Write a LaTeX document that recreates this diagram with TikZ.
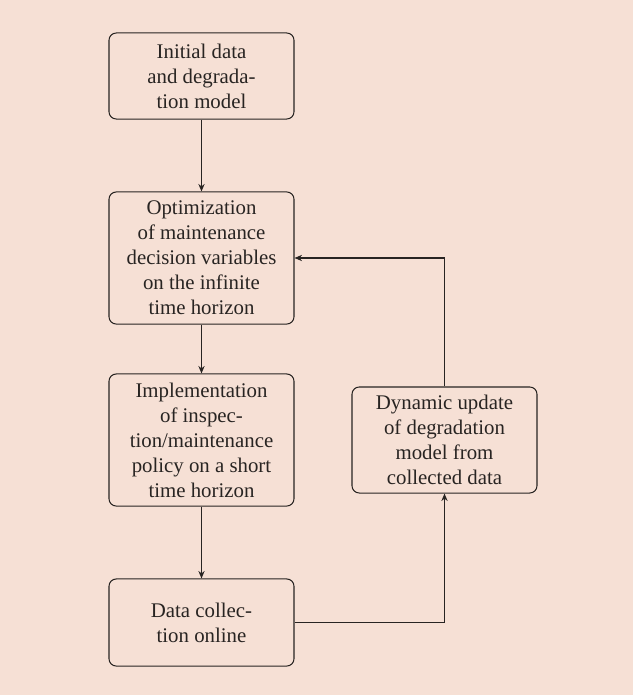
\documentclass[tikz,border=0pt]{standalone}
\usepackage{fontspec}
\setmainfont{Liberation Serif}
\usetikzlibrary{arrows.meta}
\definecolor{paper}{RGB}{246,224,213}
\definecolor{ink}{RGB}{40,36,34}
\begin{document}
\begin{tikzpicture}[x=0.48pt,y=-0.48pt,
  stepbox/.style={draw=ink, text=ink, line width=0.5pt, rounded corners=3.5pt,
    align=center, minimum width=88.8pt, inner xsep=2pt, inner ysep=2pt,
    font=\fontsize{10}{12}\selectfont},
  flow/.style={draw=ink, line width=0.5pt, -{Stealth[length=3.6pt,width=3pt]}}]
  % canvas
  \fill[paper] (0,0) rectangle (633,695);
  \useasboundingbox (0,0) rectangle (633,695);
  % main chain
  \node[stepbox, minimum height=41.3pt] (init) at (201.5,76)
    {Initial data\\and degrada-\\tion model};
  \node[stepbox, minimum height=63.4pt] (opt) at (201.5,258)
    {Optimization\\of maintenance\\decision variables\\on the infinite\\time horizon};
  \node[stepbox, minimum height=63.4pt] (impl) at (201.5,440)
    {Implementation\\of inspec-\\tion/maintenance\\policy on a short\\time horizon};
  \node[stepbox, minimum height=41.8pt] (coll) at (201.5,622.5)
    {Data collec-\\tion online};
  % feedback step
  \node[stepbox, minimum height=50.9pt] (upd) at (444.5,440)
    {Dynamic update\\of degradation\\model from\\collected data};
  % connectors
  \draw[flow] (init) -- (opt);
  \draw[flow] (opt) -- (impl);
  \draw[flow] (impl) -- (coll);
  \draw[flow] (coll.east) -| (upd.south);
  \draw[flow] (upd.north) |- (opt.east);
\end{tikzpicture}
\end{document}
